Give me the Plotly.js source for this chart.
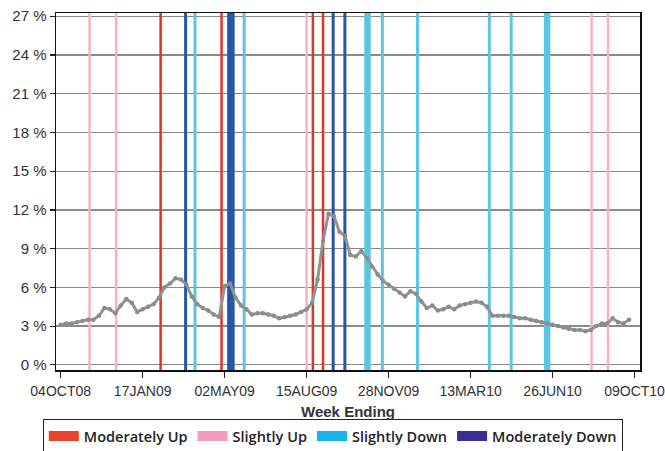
<!DOCTYPE html>
<html>
<head>
<meta charset="utf-8">
<script src="https://cdn.plot.ly/plotly-3.0.1.min.js"></script>
<style>html,body{margin:0;padding:0;background:#fff}#chart{width:665px;height:451px}</style>
</head>
<body>
<div id="chart"></div>
<script>
// Weekly series (percent), week ending 04OCT08 .. 02OCT10
const firstWeek = '2008-10-04';
const rateValues = [
  3.1, 3.2, 3.2, 3.3, 3.4, 3.5, 3.5, 3.8, 4.4, 4.3,
  4.0, 4.6, 5.1, 4.8, 4.1, 4.3, 4.5, 4.7, 5.2, 6.0,
  6.3, 6.7, 6.6, 6.2, 5.3, 4.7, 4.4, 4.2, 3.9, 3.7,
  6.1, 6.3, 5.2, 4.6, 4.3, 3.9, 4.0, 4.0, 3.9, 3.8,
  3.6, 3.7, 3.8, 3.9, 4.1, 4.3, 4.8, 6.6, 9.6, 11.7,
  11.5, 10.3, 10.0, 8.5, 8.4, 8.8, 8.3, 7.6, 7.0, 6.5,
  6.2, 5.9, 5.6, 5.3, 5.7, 5.5, 4.9, 4.4, 4.6, 4.2,
  4.3, 4.5, 4.3, 4.6, 4.7, 4.8, 4.9, 4.8, 4.5, 3.8,
  3.8, 3.8, 3.8, 3.7, 3.6, 3.6, 3.5, 3.4, 3.3, 3.2,
  3.1, 3.0, 2.9, 2.8, 2.7, 2.7, 2.6, 2.7, 3.0, 3.2,
  3.2, 3.6, 3.3, 3.2, 3.5
];

// Event markers (vertical lines)
const moderatelyUp = ['2009-02-09', '2009-04-28', '2009-08-23', '2009-09-05'];
const slightlyUp = ['2008-11-10', '2008-12-14', '2009-08-15', '2010-08-15', '2010-09-05'];
const slightlyDown = ['2009-03-25', '2009-05-27', '2009-11-20', '2010-01-04', '2010-04-06', '2010-05-04'];
const slightlyDownWide = ['2009-11-01', '2010-06-19'];
const moderatelyDown = ['2009-03-13', '2009-09-18', '2009-10-03'];
const moderatelyDownWide = ['2009-05-10'];

const categoryNames = ['Moderately Up', 'Slightly Up', 'Slightly Down', 'Moderately Down'];

// Tick labels
const tickDates = ['2008-10-04', '2009-01-17', '2009-05-02', '2009-08-15', '2009-11-28', '2010-03-13', '2010-06-26', '2010-10-09'];
const tickLabels = ['04OCT08', '17JAN09', '02MAY09', '15AUG09', '28NOV09', '13MAR10', '26JUN10', '09OCT10'];
const yTicks = [0, 3, 6, 9, 12, 15, 18, 21, 24, 27];

// ---- build ----
function weekDates(start, n) {
  const out = [];
  const d0 = new Date(start + 'T00:00:00Z');
  for (let i = 0; i < n; i++) {
    const d = new Date(d0.getTime() + i * 7 * 86400000);
    out.push(d.toISOString().slice(0, 10));
  }
  return out;
}
const xDates = weekDates(firstWeek, rateValues.length);

const Y0 = -0.4, Y1 = 27.25;
function vlines(dates, color, width, opacity) {
  const x = [], y = [];
  dates.forEach(d => { x.push(d, d, null); y.push(Y0, Y1, null); });
  return {type: 'scatter', mode: 'lines', x: x, y: y, showlegend: false, hoverinfo: 'skip',
          line: {color: color, width: width}, opacity: opacity || 1};
}
const lineCol = {mu: '#e0332a', su: '#f5b3bf', sd: '#5cc6e0', md: '#2656a8'};
const legCol = ['#e8432d', '#f39bbd', '#1cb4e8', '#3a2d91'];

const traces = [
  vlines(slightlyUp, lineCol.su, 2.5),
  vlines(slightlyDown, lineCol.sd, 3),
  vlines(slightlyDownWide, lineCol.sd, 6.5),
  vlines(moderatelyUp, lineCol.mu, 2.5),
  vlines(moderatelyDown, lineCol.md, 3),
  vlines(moderatelyDownWide, lineCol.md, 7.5),
  {type: 'scatter', mode: 'lines+markers', x: xDates, y: rateValues, showlegend: false,
   line: {color: '#939393', width: 3}, marker: {color: '#8c8c8c', size: 4.5}}
];
categoryNames.forEach((n, i) => {
  traces.push({type: 'scatter', mode: 'lines', x: [null], y: [null], name: n,
               line: {color: legCol[i], width: 10}});
});

const layout = {
  width: 665, height: 451,
  margin: {l: 56, r: 25, t: 13, b: 81, autoexpand: false},
  paper_bgcolor: '#fff', plot_bgcolor: '#fff',
  font: {family: 'Liberation Sans, Arial, sans-serif', color: '#333', size: 14},
  showlegend: true,
  legend: {orientation: 'h', x: 0.474, xanchor: 'center', y: -0.233, yanchor: 'bottom',
           bordercolor: '#222', borderwidth: 1,
           font: {size: 14.5, color: '#222', family: 'Open Sans, sans-serif', weight: 600},
           tracegroupgap: 0},
  xaxis: {type: 'date', range: ['2008-09-28', '2010-10-16'], tickvals: tickDates, ticktext: tickLabels,
          ticks: 'outside', ticklen: 6, tickwidth: 1.2, tickcolor: '#222', showgrid: false,
          showline: true, linecolor: '#111', linewidth: 1.5, mirror: true, zeroline: false,
          tickfont: {size: 14, color: '#333'}, ticklabeloverflow: 'allow', ticklabelstandoff: 2,
          title: {text: 'Week Ending', font: {size: 15, color: '#333', weight: 'bold'}, standoff: 8}},
  yaxis: {range: [Y0, Y1], tickvals: yTicks, ticktext: yTicks.map(v => v + ' %'),
          ticks: 'outside', ticklen: 5, tickwidth: 1.2, tickcolor: '#222',
          showgrid: true, gridcolor: '#8a8a8a', gridwidth: 1.3, zeroline: false,
          showline: true, linecolor: '#111', linewidth: 1.5, mirror: true,
          tickfont: {size: 15, color: '#333'}},
};
Plotly.newPlot('chart', traces, layout, {displayModeBar: false, staticPlot: true});
</script>
</body>
</html>
